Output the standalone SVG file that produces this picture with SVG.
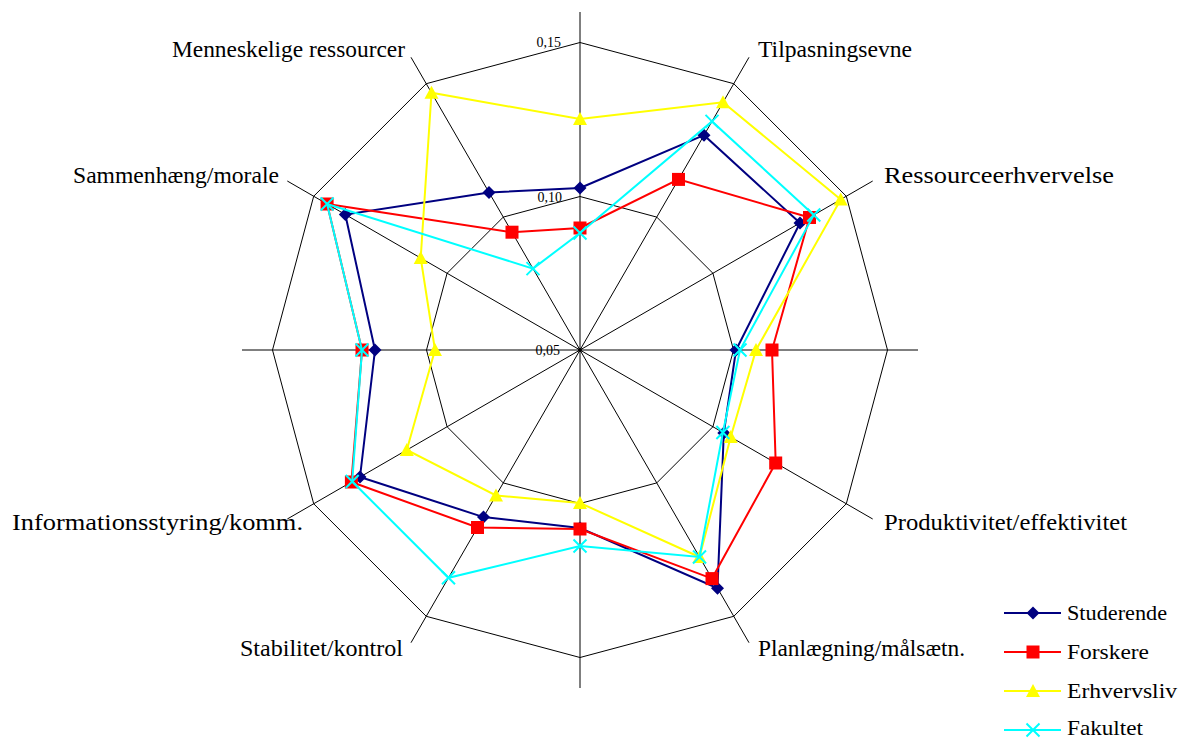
<svg xmlns="http://www.w3.org/2000/svg" xmlns:xlink="http://www.w3.org/1999/xlink" width="1188" height="740" viewBox="0 0 1188 740">
  <style>
    .grid { fill: none; stroke: #000; stroke-width: 1; }
    .axis { stroke: #000; stroke-width: 1; }
    .lbl { font-family: "Liberation Serif", "Times New Roman", serif; font-size: 23px; fill: #000; }
    .tick { font-family: "Liberation Serif", "Times New Roman", serif; font-size: 14px; fill: #000; text-anchor: end; }
    .leg { font-family: "Liberation Serif", "Times New Roman", serif; font-size: 22px; fill: #000; }
    .s1 { fill: none; stroke: #000080; stroke-width: 2; marker-start: url(#mDia); marker-mid: url(#mDia); }
    .s2 { fill: none; stroke: #ff0000; stroke-width: 2; marker-start: url(#mSq); marker-mid: url(#mSq); }
    .s3 { fill: none; stroke: #ffff00; stroke-width: 2; marker-start: url(#mTri); marker-mid: url(#mTri); }
    .s4 { fill: none; stroke: #00ffff; stroke-width: 2; marker-start: url(#mX); marker-mid: url(#mX); }
  </style>
  <defs>
    <marker id="mDia" markerUnits="userSpaceOnUse" viewBox="-8 -8 16 16" markerWidth="16" markerHeight="16" refX="0" refY="0" orient="0">
      <path d="M0,-6.5 L6.5,0 L0,6.5 L-6.5,0 Z" fill="#000080"/>
    </marker>
    <marker id="mSq" markerUnits="userSpaceOnUse" viewBox="-8 -8 16 16" markerWidth="16" markerHeight="16" refX="0" refY="0" orient="0">
      <rect x="-6.5" y="-6.5" width="13" height="13" fill="#ff0000"/>
    </marker>
    <marker id="mTri" markerUnits="userSpaceOnUse" viewBox="-8 -8 16 16" markerWidth="16" markerHeight="16" refX="0" refY="0" orient="0">
      <path d="M0,-7 L7,6 L-7,6 Z" fill="#ffff00"/>
    </marker>
    <marker id="mX" markerUnits="userSpaceOnUse" viewBox="-8 -8 16 16" markerWidth="16" markerHeight="16" refX="0" refY="0" orient="0">
      <path d="M-6.5,-6.5 L6.5,6.5 M6.5,-6.5 L-6.5,6.5" stroke="#00ffff" stroke-width="2" fill="none"/>
    </marker>
  </defs>

  <rect width="1188" height="740" fill="#fff"/>

  <!-- radar grid: two 12-sided rings and 12 spokes -->
  <g id="grid">
    <polygon class="grid" points="580,42.5 733.75,83.7 846.3,196.25 887.5,350 846.3,503.75 733.75,616.3 580,657.5 426.25,616.3 313.7,503.75 272.5,350 313.7,196.25 426.25,83.7"/>
    <polygon class="grid" points="580,196.5 656.75,217.1 712.9,273.25 733.5,350 712.9,426.75 656.75,482.9 580,503.5 503.25,482.9 447.1,426.75 426.5,350 447.1,273.25 503.25,217.1"/>
    <line class="axis" x1="580" y1="350" x2="580" y2="12"/>
    <line class="axis" x1="580" y1="350" x2="749" y2="57.3"/>
    <line class="axis" x1="580" y1="350" x2="872.7" y2="181"/>
    <line class="axis" x1="580" y1="350" x2="918" y2="350"/>
    <line class="axis" x1="580" y1="350" x2="872.7" y2="519"/>
    <line class="axis" x1="580" y1="350" x2="749" y2="642.7"/>
    <line class="axis" x1="580" y1="350" x2="580" y2="688"/>
    <line class="axis" x1="580" y1="350" x2="411" y2="642.7"/>
    <line class="axis" x1="580" y1="350" x2="287.3" y2="519"/>
    <line class="axis" x1="580" y1="350" x2="242" y2="350"/>
    <line class="axis" x1="580" y1="350" x2="287.3" y2="181"/>
    <line class="axis" x1="580" y1="350" x2="411" y2="57.3"/>
    <circle cx="580" cy="350" r="2" fill="#000"/>
  </g>

  <!-- scale values -->
  <g id="ticks">
    <text class="tick" x="561" y="47">0,15</text>
    <text class="tick" x="562" y="202">0,10</text>
    <text class="tick" x="560" y="355">0,05</text>
  </g>

  <!-- category labels -->
  <g id="labels">
    <text class="lbl" x="172" y="57" textLength="233" lengthAdjust="spacingAndGlyphs">Menneskelige ressourcer</text>
    <text class="lbl" x="758" y="57" textLength="154" lengthAdjust="spacingAndGlyphs">Tilpasningsevne</text>
    <text class="lbl" x="73" y="183" textLength="206" lengthAdjust="spacingAndGlyphs">Sammenhæng/morale</text>
    <text class="lbl" x="884" y="183" textLength="230" lengthAdjust="spacingAndGlyphs">Ressourceerhvervelse</text>
    <text class="lbl" x="12" y="530" textLength="291" lengthAdjust="spacingAndGlyphs">Informationsstyring/komm.</text>
    <text class="lbl" x="884" y="530" textLength="243" lengthAdjust="spacingAndGlyphs">Produktivitet/effektivitet</text>
    <text class="lbl" x="240" y="656" textLength="163" lengthAdjust="spacingAndGlyphs">Stabilitet/kontrol</text>
    <text class="lbl" x="758" y="656" textLength="207" lengthAdjust="spacingAndGlyphs">Planlægning/målsætn.</text>
  </g>

  <!-- data series -->
  <g id="series">
    <polygon id="studerende" class="s1" points="580,188 704,135.2 800,223 736,350 723.8,433 717.5,588.2 580,528 483.5,517.1 360,477 375,350 345.3,214.5 489,192.4"/>
    <polygon id="forskere" class="s2" points="580,228 678.5,179.4 809.5,217.5 772,350 775.7,463 712,578.6 580,529 477.5,527.5 351.4,482 362,350 327.1,204 512,232.2"/>
    <polygon id="erhvervsliv" class="s3" points="580,119 723,102.3 840.7,199.5 756,350 730.7,437 699.5,557 580,503 496,495.5 406.8,450 435,350 420.7,258 431.5,92.8"/>
    <polygon id="fakultet" class="s4" points="580,233 712,121.4 813.8,215 740,350 722.9,432.5 699.5,557 580,546 448.5,577.8 352.2,481.5 362,350 327.1,204 533,268.6"/>
  </g>

  <!-- legend -->
  <g id="legend">
    <g id="leg-studerende">
      <polyline class="s1" points="1004,613 1033,613 1061,613" style="marker-start:none"/>
      <text class="leg" x="1067" y="620" textLength="100" lengthAdjust="spacingAndGlyphs">Studerende</text>
    </g>
    <g id="leg-forskere">
      <polyline class="s2" points="1004,652 1033,652 1061,652" style="marker-start:none"/>
      <text class="leg" x="1067" y="659" textLength="82" lengthAdjust="spacingAndGlyphs">Forskere</text>
    </g>
    <g id="leg-erhvervsliv">
      <polyline class="s3" points="1004,691 1033,691 1061,691" style="marker-start:none"/>
      <text class="leg" x="1067" y="698" textLength="110" lengthAdjust="spacingAndGlyphs">Erhvervsliv</text>
    </g>
    <g id="leg-fakultet">
      <polyline class="s4" points="1004,730 1033,730 1061,730" style="marker-start:none"/>
      <text class="leg" x="1067" y="735" textLength="76" lengthAdjust="spacingAndGlyphs">Fakultet</text>
    </g>
  </g>
</svg>
